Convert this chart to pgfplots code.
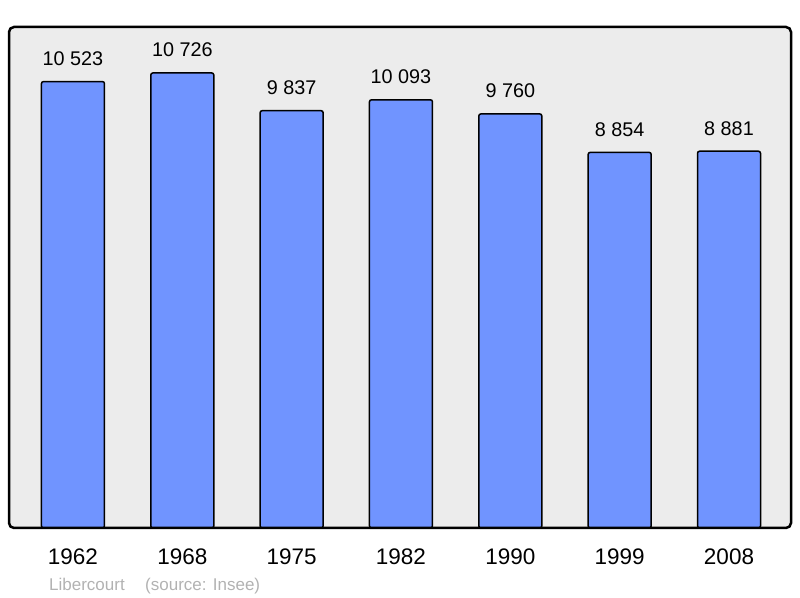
\documentclass[border=0pt]{standalone}
\usepackage{fontspec}
\setmainfont{Liberation Sans}
\usepackage{pgfplots}
\pgfplotsset{compat=1.18}
\definecolor{barblue}{RGB}{112,148,255}
\definecolor{panel}{RGB}{236,236,236}
\definecolor{srcgray}{RGB}{178,178,178}

\begin{document}
\begin{tikzpicture}
\begin{axis}[
  name=ax,
  scale only axis, width=782pt, height=501pt,
  xmin=-0.585, xmax=6.567, ymin=0, ymax=11810,
  axis line style={draw=none},
  axis background/.style={fill=panel, rounded corners=5pt},
  ybar, bar width=0.576,
  xtick=data, xticklabels={1962,1968,1975,1982,1990,1999,2008},
  major tick length=0pt, ytick=\empty,
  xticklabel style={font=\fontsize{22.5}{26}\selectfont, anchor=base, yshift=-37pt, inner sep=0pt},
  point meta=explicit symbolic,
  nodes near coords,
  every node near coord/.append style={font=\fontsize{19.8}{22}\selectfont, anchor=base, yshift=16pt, inner sep=0pt},
  clip=false,
]
\addplot[fill=barblue, draw=black, line width=1.5pt, rounded corners=2pt] coordinates {
  (0,10523) [10 523]
  (1,10726) [10 726]
  (2,9837) [9 837]
  (3,10093) [10 093]
  (4,9760) [9 760]
  (5,8854) [8 854]
  (6,8881) [8 881]
};
\draw[line width=2.5pt, rounded corners=5pt] (rel axis cs:0,0) rectangle (rel axis cs:1,1);
\end{axis}
\node[anchor=base west, inner sep=0pt, text=srcgray, font=\fontsize{17}{20}\selectfont] at ([xshift=40pt,yshift=-63pt]ax.south west) {Libercourt};
\node[anchor=base west, inner sep=0pt, text=srcgray, font=\fontsize{17}{20}\selectfont] at ([xshift=136pt,yshift=-63pt]ax.south west) {(source: Insee)};
\pgfresetboundingbox
\useasboundingbox ([xshift=-9pt,yshift=-70pt]ax.south west) rectangle ([xshift=9pt,yshift=27pt]ax.north east);
\end{tikzpicture}
\end{document}
